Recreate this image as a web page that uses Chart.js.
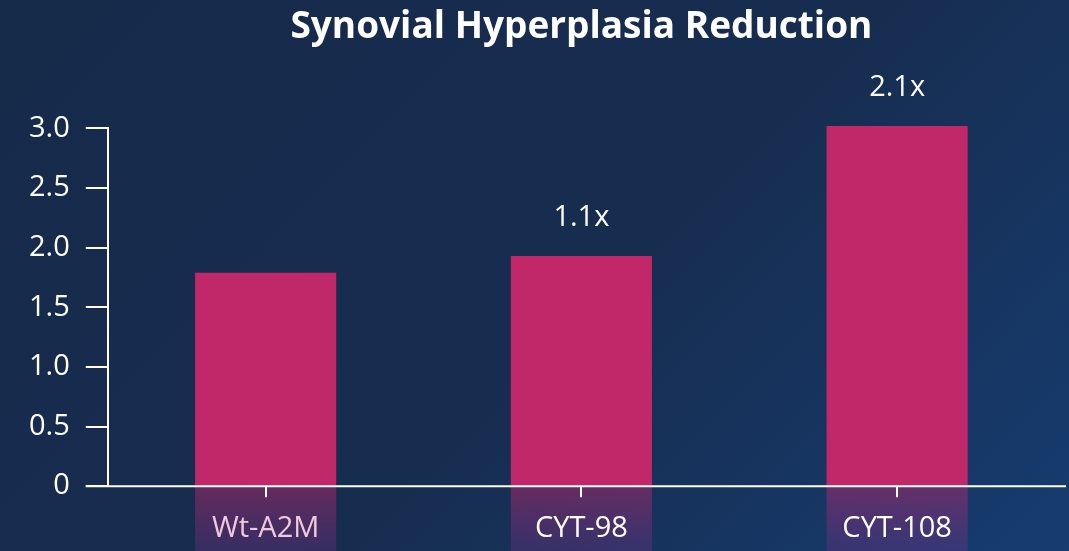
<!DOCTYPE html>
<html>
<head>
<meta charset="utf-8">
<script src="https://cdn.jsdelivr.net/npm/chart.js@4/dist/chart.umd.min.js"></script>
<style>
    html, body {
        margin: 0;
        padding: 0;
        width: 1069px;
        height: 551px;
        overflow: hidden;
        background: linear-gradient(135deg, #162a4a 0%, #172d50 55%, #163c70 100%);
    }
    #wrap { width: 1069px; height: 551px; position: relative; }
</style>
</head>
<body>
<div id="wrap"><canvas id="hyperplasiaChart"></canvas></div>
<script>
// --- Data ---
const categories = ['Wt-A2M', 'CYT-98', 'CYT-108'];
const hyperplasiaValues = [1.79, 1.93, 3.02];
const foldLabels = ['', '1.1x', '2.1x'];
const yTicks = [0, 0.5, 1.0, 1.5, 2.0, 2.5, 3.0];
const TITLE = 'Synovial Hyperplasia Reduction';

const FONT = "'Open Sans', 'Noto Sans', sans-serif";
const BAR_COLOR = '#c0286a';
const labelColors = ['#f2c8dc', '#ffffff', '#ffffff'];

// faded "reflection" under each bar, behind the category labels
const reflectionPlugin = {
    id: 'reflection',
    beforeDraw(chart) {
        const { ctx, chartArea, height } = chart;
        const meta = chart.getDatasetMeta(0);
        ctx.save();
        meta.data.forEach(bar => {
            const g = ctx.createLinearGradient(0, chartArea.bottom, 0, height);
            g.addColorStop(0, 'rgba(192, 40, 106, 0.48)');
            g.addColorStop(1, 'rgba(150, 50, 150, 0.25)');
            ctx.fillStyle = g;
            ctx.fillRect(bar.x - bar.width / 2, chartArea.bottom, bar.width, height - chartArea.bottom);
        });
        ctx.restore();
    }
};

// fold-change text above bars, extended x axis line, title centred on plot area
const foldLabelPlugin = {
    id: 'foldLabels',
    afterDatasetsDraw(chart) {
        const { ctx, chartArea } = chart;
        const meta = chart.getDatasetMeta(0);
        ctx.save();
        ctx.strokeStyle = '#ffffff';
        ctx.lineWidth = 2;
        ctx.beginPath();
        ctx.moveTo(chartArea.left - 22, chartArea.bottom);
        ctx.lineTo(chartArea.right + 11, chartArea.bottom);
        ctx.stroke();

        ctx.fillStyle = '#ffffff';
        ctx.font = '29px ' + FONT;
        ctx.textAlign = 'center';
        ctx.textBaseline = 'middle';
        meta.data.forEach((bar, i) => {
            if (!foldLabels[i]) return;
            ctx.fillText(foldLabels[i], bar.x, bar.y - 38);
        });

        const t = chart.titleBlock;
        ctx.font = 'bold 37px ' + FONT;
        ctx.fillText(TITLE, (chartArea.left + chartArea.right) / 2, t.top + 5 + 37 * 1.2 / 2);
        ctx.restore();
    }
};

const ctx = document.getElementById('hyperplasiaChart').getContext('2d');
const chart = new Chart(ctx, {
    type: 'bar',
    data: {
        labels: categories,
        datasets: [{
            label: 'Synovial Hyperplasia',
            data: hyperplasiaValues,
            backgroundColor: BAR_COLOR,
            borderWidth: 0,
            barPercentage: 0.447,
            categoryPercentage: 1.0,
            clip: false
        }]
    },
    options: {
        responsive: true,
        maintainAspectRatio: false,
        animation: false,
        layout: { padding: { left: 13, right: 14, top: 0, bottom: -9 } },
        plugins: {
            legend: { display: false },
            tooltip: { enabled: false },
            title: {
                // reserves the space; the visible title is drawn by foldLabelPlugin
                display: true,
                text: TITLE,
                color: 'rgba(0,0,0,0)',
                font: { family: FONT, size: 37, weight: 'bold' },
                padding: { top: 5, bottom: 79 }
            }
        },
        scales: {
            x: {
                border: { display: false },
                grid: {
                    offset: false,
                    drawOnChartArea: false,
                    drawTicks: true,
                    tickLength: 11,
                    color: '#ffffff',
                    lineWidth: 2
                },
                ticks: {
                    color: ctx => labelColors[ctx.index],
                    font: { family: FONT, size: 29 },
                    padding: 14
                }
            },
            y: {
                min: 0,
                max: 3.0,
                afterBuildTicks: axis => {
                    axis.ticks = yTicks.map(v => ({ value: v }));
                },
                border: { display: true, color: '#ffffff', width: 2 },
                grid: {
                    drawOnChartArea: false,
                    tickLength: 22,
                    color: '#ffffff',
                    lineWidth: 2
                },
                ticks: {
                    color: '#ffffff',
                    font: { family: FONT, size: 29 },
                    padding: 16,
                    callback: v => v === 0 ? '0' : v.toFixed(1)
                }
            }
        }
    },
    plugins: [reflectionPlugin, foldLabelPlugin]
});
</script>
</body>
</html>
